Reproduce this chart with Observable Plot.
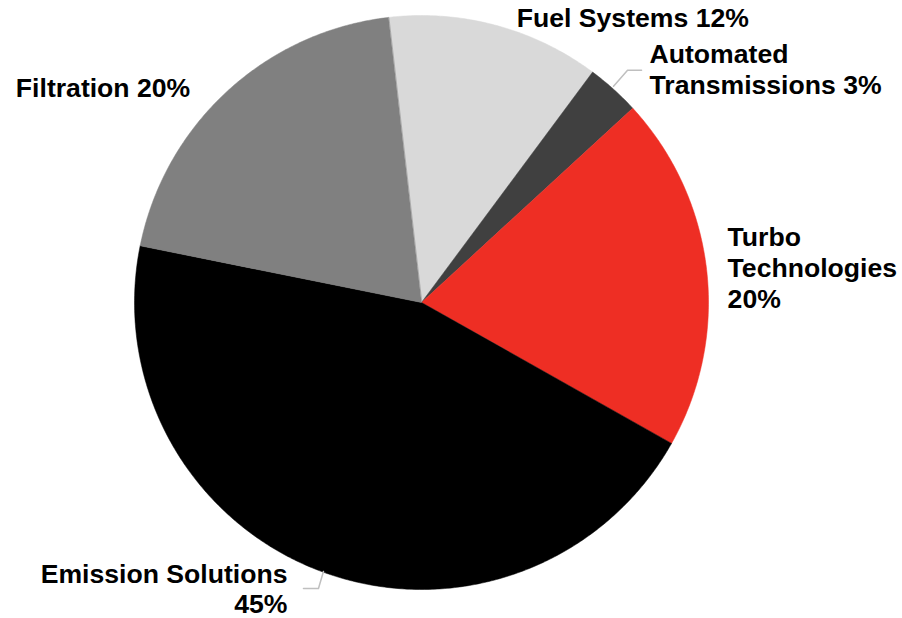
<!DOCTYPE html>
<html>
<head>
<meta charset="utf-8">
<script src="https://cdn.jsdelivr.net/npm/d3@7"></script>
<script src="https://cdn.jsdelivr.net/npm/@observablehq/plot@0.6"></script>
<style>
  html, body { margin: 0; padding: 0; background: #ffffff; }
  #chart { width: 902px; height: 618px; }
</style>
</head>
<body>
<div id="chart"></div>
<script>
// ---- data ----
const categories = ["Fuel Systems", "Automated Transmissions", "Turbo Technologies", "Emission Solutions", "Filtration"];
const shares = [12, 3, 20, 45, 20];
const labelLines = [
  ["Fuel Systems 12%"],
  ["Automated", "Transmissions 3%"],
  ["Turbo", "Technologies", "20%"],
  ["Emission Solutions", "45%"],
  ["Filtration 20%"]
];
const sliceColors = ["#d9d9d9", "#404040", "#ee2e24", "#000000", "#808080"];

// ---- layout ----
const W = 902, H = 618;
const cx = 421, cy = 302, R = 287;
const startDeg = -6.6;
const FS = 26.6;
// label placement relative to slice mid-point on the rim
const labelLayout = [
  {dx: 21, dys: [2], anchor: "start"},
  {dx: 36, dys: [-26, 5], anchor: "start"},
  {dx: 21, dys: [-24, 7, 38], anchor: "start"},
  {dx: -34, dys: [12, 42], anchor: "end"},
  {dx: -37, dys: [6], anchor: "end"}
];
// leader lines: elbow offsets from rim point
const leaders = [
  {i: 1, pts: [[0, -3], [14, -19], [28, -19]]},
  {i: 3, pts: [[2, 0], [-3, 17], [-18, 17]]}
];

const total = d3.sum(shares);
const rad = d => d * Math.PI / 180;
const polar = (deg, r) => [r * Math.sin(rad(deg)), -r * Math.cos(rad(deg))];

// slice polygons
const slicePts = [];
const mids = [];
let acc = startDeg;
categories.forEach((name, i) => {
  const a0 = acc, a1 = acc + shares[i] / total * 360;
  acc = a1;
  mids.push((a0 + a1) / 2);
  slicePts.push({name, x: 0, y: 0});
  const n = Math.max(2, Math.ceil((a1 - a0) / 0.5));
  for (let k = 0; k <= n; k++) {
    const [x, y] = polar(a0 + (a1 - a0) * k / n, R);
    slicePts.push({name, x, y});
  }
});

// label lines
const labelData = [];
categories.forEach((name, i) => {
  const [rx, ry] = polar(mids[i], R);
  const L = labelLayout[i];
  labelLines[i].forEach((t, j) => {
    labelData.push({text: t, x: rx + L.dx, y: ry + L.dys[j], anchor: L.anchor});
  });
});

// leader points
const leaderData = [];
leaders.forEach(({i, pts}) => {
  const [rx, ry] = polar(mids[i], R);
  pts.forEach(([dx, dy]) => leaderData.push({id: i, x: rx + dx, y: ry + dy}));
});

const font = "'Liberation Sans', Arial, sans-serif";
const plot = Plot.plot({
  width: W,
  height: H,
  margin: 0,
  style: {background: "#ffffff", fontFamily: font},
  x: {domain: [-cx, W - cx], range: [0, W], axis: null},
  y: {domain: [-cy, H - cy], range: [0, H], axis: null},
  color: {type: "ordinal", domain: categories, range: sliceColors},
  marks: [
    Plot.line(slicePts, {x: "x", y: "y", z: "name", fill: "name", stroke: "name", strokeWidth: 0.5, curve: "linear-closed"}),
    Plot.line(leaderData, {x: "x", y: "y", z: "id", stroke: "#bfbfbf", strokeWidth: 1.5}),
    Plot.text(labelData.filter(d => d.anchor === "start"), {x: "x", y: "y", text: "text", textAnchor: "start", lineAnchor: "bottom", fontSize: FS, fontWeight: "bold", fill: "#000000", fontFamily: font}),
    Plot.text(labelData.filter(d => d.anchor === "end"), {x: "x", y: "y", text: "text", textAnchor: "end", lineAnchor: "bottom", fontSize: FS, fontWeight: "bold", fill: "#000000", fontFamily: font})
  ]
});
document.getElementById("chart").appendChild(plot);
</script>
</body>
</html>
